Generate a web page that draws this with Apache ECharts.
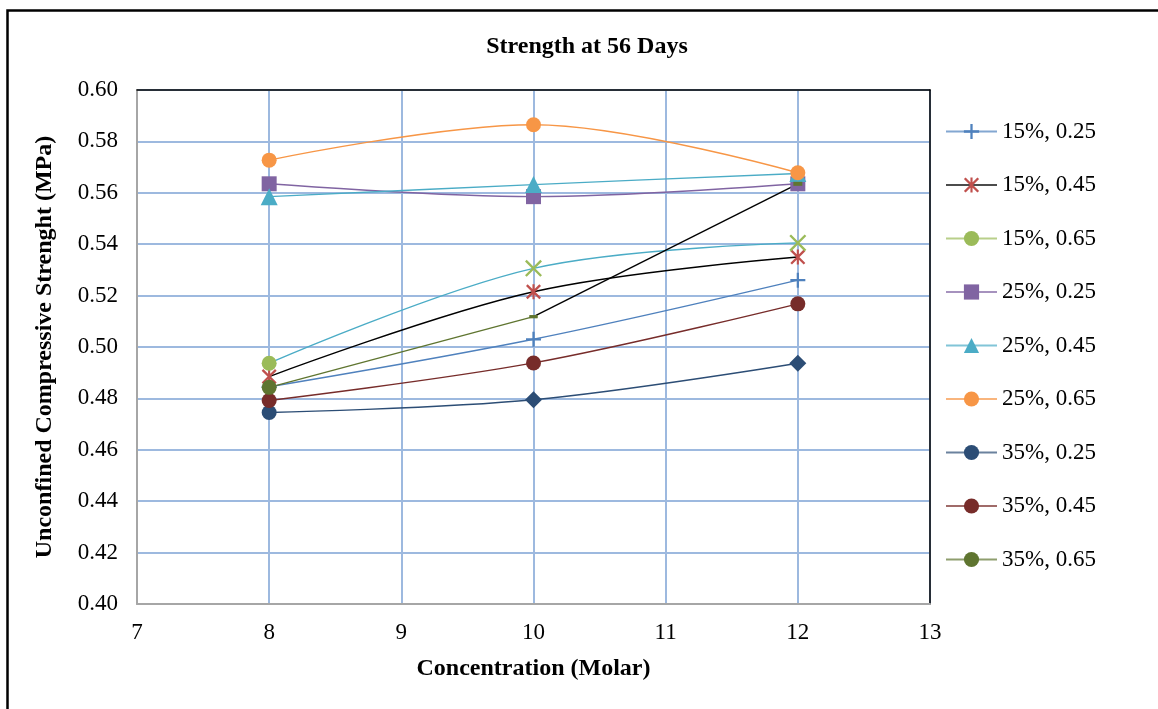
<!DOCTYPE html>
<html>
<head>
<meta charset="utf-8">
<script src="https://cdn.jsdelivr.net/npm/echarts@6/dist/echarts.min.js"></script>
<style>
html,body{margin:0;padding:0;background:#fff;}
#chart{width:1158px;height:709px;}
</style>
</head>
<body>
<div id="chart"></div>
<script>
// ---- data ----
const concentration = [8, 10, 12];
const seriesNames = ['15%, 0.25','15%, 0.45','15%, 0.65','25%, 0.25','25%, 0.45','25%, 0.65','35%, 0.25','35%, 0.45','35%, 0.65'];
const s15_025 = [0.4845, 0.503, 0.526];
const s15_045 = [0.4885, 0.5215, 0.535];
const s15_065 = [0.4937, 0.5306, 0.5405];
const s25_025 = [0.5635, 0.5585, 0.5635];
const s25_045 = [0.5585, 0.5632, 0.5675];
const s25_065 = [0.5727, 0.5865, 0.5678];
const s35_025 = [0.4745, 0.4795, 0.4937];
const s35_045 = [0.4792, 0.4938, 0.5168];
const s35_065 = [0.4843, 0.5118, 0.5635];
const yTicks = {min: 0.40, max: 0.60, step: 0.02};
const xTicks = {min: 7, max: 13, step: 1};

// ---- styles ----
const FONT = 'Liberation Serif';
const PLUS = 'path://M8.5,0 L11.5,0 L11.5,20 L8.5,20 Z M0,8.5 L20,8.5 L20,11.5 L0,11.5 Z';
const CROSS = 'path://M0,2 L2,0 L20,18 L18,20 Z M18,0 L20,2 L2,20 L0,18 Z';
const STAR = 'path://M0,2.2 L2.2,0 L20,17.8 L17.8,20 Z M17.8,0 L20,2.2 L2.2,20 L0,17.8 Z M8.6,0 L11.4,0 L11.4,20 L8.6,20 Z';

// per series: line colour, marker colour, legend line colour, marker per point
const styles = [
  {line:'#4F81BD', mark:'#4F81BD', leg:'#4F81BD', sym:[PLUS,PLUS,PLUS], size:[15,15,15]},
  {line:'#000000', mark:'#C0504D', leg:'#000000', sym:[STAR,STAR,STAR], size:[15,15,15]},
  {line:'#4BACC6', mark:'#9BBB59', leg:'#9BBB59', sym:['circle',CROSS,CROSS], size:[15,17,17]},
  {line:'#8064A2', mark:'#8064A2', leg:'#8064A2', sym:['rect','rect','rect'], size:[15,15,15]},
  {line:'#4BACC6', mark:'#4BACC6', leg:'#4BACC6', sym:['triangle','triangle','triangle'], size:[17,17,17]},
  {line:'#F79646', mark:'#F79646', leg:'#F79646', sym:['circle','circle','circle'], size:[15,15,15]},
  {line:'#2C4D75', mark:'#2C4D75', leg:'#2C4D75', sym:['circle','diamond','diamond'], size:[15,17,17]},
  {line:'#772C2A', mark:'#772C2A', leg:'#772C2A', sym:['circle','circle','circle'], size:[15,15,15]},
  {line:'#5F7530', mark:'#5F7530', leg:'#5F7530', sym:['circle','rect','rect'], size:[15,[8,3],[9,4]]}
];
const legendSym = [PLUS, STAR, 'circle', 'rect', 'triangle', 'circle', 'circle', 'circle', 'circle'];
const allValues = [s15_025, s15_045, s15_065, s25_025, s25_045, s25_065, s35_025, s35_045, s35_065];

function pts(vals, st, mask) {
  return concentration.map((x, i) => {
    if (mask && !mask[i]) return {value: [x, null]};
    return {
      value: [x, vals[i]],
      symbol: st.sym[i],
      symbolSize: st.size[i],
      itemStyle: {color: st.mark, opacity: 1}
    };
  });
}

const series = [];
allValues.forEach((vals, k) => {
  const st = styles[k];
  const last = (k === 8);
  series.push({
    name: seriesNames[k],
    type: 'line',
    smooth: 0.35,
    symbol: legendSym[k],
    showAllSymbol: true,
    connectNulls: false,
    lineStyle: {color: st.line, width: 1.4},
    itemStyle: {color: st.mark},
    data: pts(vals, st, last ? [true, true, false] : null),
    animation: false,
    z: 3
  });
  if (last) {
    // segment 10 -> 12 drawn in black
    series.push({
      name: seriesNames[k],
      type: 'line',
      smooth: 0.35,
      symbol: legendSym[k],
      lineStyle: {color: '#000000', width: 1.4},
      itemStyle: {color: st.mark},
      data: pts(vals, st, [false, true, true]),
      animation: false,
      z: 3
    });
  }
});

const chart = echarts.init(document.getElementById('chart'), null, {renderer: 'canvas'});
chart.setOption({
  backgroundColor: '#ffffff',
  animation: false,
  textStyle: {fontFamily: FONT, color: '#000'},
  title: {
    text: 'Strength at 56 Days',
    left: 587, top: 35, textAlign: 'center', padding: 0,
    textStyle: {fontFamily: FONT, fontSize: 24, fontWeight: 'bold', color: '#000'}
  },
  grid: {left: 137, top: 90, right: 228, bottom: 105, containLabel: false},
  legend: {
    orient: 'vertical',
    left: 945, top: 120, padding: 0,
    itemWidth: 51, itemHeight: 19, itemGap: 30.5,
    textStyle: {fontFamily: FONT, fontSize: 23, color: '#000'},
    data: seriesNames.map((n, k) => ({
      name: n,
      itemStyle: {color: styles[k].mark},
      lineStyle: {color: styles[k].leg, width: 2, opacity: 0.7}
    })),
    selectedMode: false
  },
  xAxis: [{
    type: 'value', min: xTicks.min, max: xTicks.max, interval: xTicks.step,
    name: 'Concentration (Molar)', nameLocation: 'middle', nameGap: 53,
    nameTextStyle: {fontFamily: FONT, fontSize: 24, fontWeight: 'bold', color: '#000'},
    axisLine: {show: true, lineStyle: {color: '#A6A6A6', width: 2}},
    axisTick: {show: false},
    axisLabel: {fontFamily: FONT, fontSize: 23, color: '#000', margin: 17},
    splitLine: {show: true, lineStyle: {color: '#9DB9DF', width: 2}}
  }, {
    type: 'value', position: 'top', min: xTicks.min, max: xTicks.max, interval: xTicks.step,
    axisLine: {show: true, lineStyle: {color: '#000', width: 1.5}},
    axisTick: {show: false}, axisLabel: {show: false}, splitLine: {show: false}
  }],
  yAxis: [{
    type: 'value', min: yTicks.min, max: yTicks.max, interval: yTicks.step,
    name: 'Unconfined Compressive Strenght (MPa)', nameLocation: 'middle', nameGap: 80,
    nameTextStyle: {fontFamily: FONT, fontSize: 24, fontWeight: 'bold', color: '#000'},
    axisLine: {show: true, lineStyle: {color: '#A6A6A6', width: 2}},
    axisTick: {show: false},
    axisLabel: {fontFamily: FONT, fontSize: 23, color: '#000', margin: 19,
      formatter: v => v.toFixed(2)},
    splitLine: {show: true, lineStyle: {color: '#9DB9DF', width: 2}}
  }, {
    type: 'value', position: 'right', min: yTicks.min, max: yTicks.max, interval: yTicks.step,
    axisLine: {show: true, lineStyle: {color: '#000', width: 1.5}},
    axisTick: {show: false}, axisLabel: {show: false}, splitLine: {show: false}
  }],
  graphic: [{
    type: 'rect', silent: true, z: 100,
    shape: {x: 7.5, y: 10.5, width: 1200, height: 760},
    style: {fill: 'none', stroke: '#000', lineWidth: 2.5}
  }],
  series: series
});
</script>
</body>
</html>
